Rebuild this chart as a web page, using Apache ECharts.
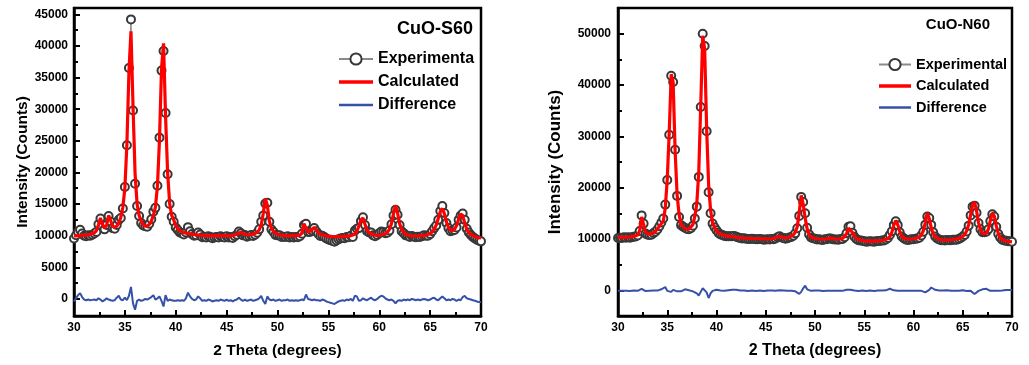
<!DOCTYPE html>
<html>
<head>
<meta charset="utf-8">
<script src="https://cdn.jsdelivr.net/npm/echarts@6/dist/echarts.min.js"></script>
<style>
  html, body { margin: 0; padding: 0; background: #fff; }
  #chart { width: 1029px; height: 365px; }
</style>
</head>
<body>
<div id="chart"></div>
<script>
// 2 theta sampling grid, 30..70 deg in 0.2 deg steps (201 points)
const twoTheta = [];
for (let i = 0; i <= 200; i++) twoTheta.push(+(30 + i * 0.2).toFixed(1));

// ---- CuO-S60 ----
const expS = [
  9550, 10080, 10600, 10920, 10350, 9980, 9900, 10050, 10000, 10150,
  10350, 10600, 11800, 12700, 11400, 11000, 11700, 13100, 12200, 11200,
  11100, 11700, 12500, 12800, 14300, 17700, 24300, 36500, 44200, 29800,
  18200, 14700, 13100, 12000, 11600, 11500, 11400, 11900, 12600, 13800,
  14400, 17900, 25500, 36100, 39200, 29400, 19700, 15000, 13000, 12200,
  11300, 10900, 10500, 10400, 10200, 10500, 11350, 10700, 10250, 10000,
  10050, 10500, 10200, 9750, 9850, 9700, 9900, 9800, 9600, 9700,
  9800, 9700, 9900, 9800, 9700, 9900, 9700, 9800, 9650, 9900,
  10150, 10650, 10400, 10050, 10100, 9850, 9950, 10100, 9950, 10150,
  10450, 11000, 12200, 13200, 15100, 15200, 12200, 11000, 10600, 10100,
  10050, 10050, 9800, 9850, 9800, 9900, 9700, 9800, 9700, 9800,
  9750, 9900, 10300, 11700, 11900, 10600, 10600, 10800, 11200, 10700,
  10300, 9950, 10000, 9800, 9550, 9400, 9300, 9150, 9050, 9250,
  9450, 9550, 9650, 9600, 9800, 9750, 10000, 9800, 10800, 11100,
  11200, 12300, 12900, 11700, 10700, 10500, 10500, 10050, 9900, 10100,
  10400, 10650, 10600, 10400, 10450, 10800, 11800, 13200, 14100, 13300,
  11700, 10700, 10400, 10050, 10000, 9800, 9950, 9850, 9750, 9850,
  9800, 9900, 10050, 10000, 10000, 10250, 10700, 11200, 11600, 12500,
  13900, 14700, 13600, 12000, 11200, 10700, 10800, 10900, 11300, 12500,
  13200, 13500, 12500, 11100, 10500, 10100, 9800, 9550, 9350, 9200,
  9100
];
const calcS = [
  9950, 9980, 10000, 10020, 10050, 10080, 10100, 10150, 10200, 10300,
  10450, 10800, 11700, 12800, 11800, 11200, 11600, 13200, 12400, 11500,
  11300, 11500, 12000, 12900, 14500, 17500, 24500, 36000, 42300, 30500,
  19900, 15000, 13200, 12300, 11800, 11500, 11500, 11800, 12300, 13200,
  14500, 17800, 25100, 36400, 40400, 28800, 20000, 15100, 13200, 12500,
  11600, 11100, 10800, 10600, 10500, 10400, 10350, 10300, 10250, 10200,
  10150, 10100, 10100, 10050, 10050, 10000, 10000, 10000, 10000, 10000,
  10000, 10000, 10000, 10000, 10000, 10000, 10000, 10000, 10050, 10100,
  10250, 10450, 10500, 10350, 10200, 10150, 10150, 10200, 10250, 10350,
  10550, 10900, 11700, 13500, 15900, 14800, 12300, 11200, 10700, 10400,
  10250, 10150, 10100, 10050, 10000, 10000, 10000, 10000, 10000, 10000,
  10050, 10100, 10400, 11900, 11200, 10600, 10700, 11000, 11300, 10900,
  10500, 10250, 10100, 10000, 9950, 9900, 9900, 9850, 9850, 9850,
  9850, 9850, 9850, 9900, 9900, 9950, 10000, 10100, 10300, 10700,
  11500, 12500, 12800, 11800, 10900, 10500, 10300, 10150, 10100, 10100,
  10100, 10150, 10200, 10300, 10550, 11000, 11900, 13500, 14800, 13600,
  11900, 11000, 10500, 10250, 10100, 10000, 9950, 9950, 9950, 9950,
  10000, 10000, 10050, 10100, 10200, 10350, 10600, 11000, 11700, 12700,
  13800, 14300, 13500, 12200, 11300, 10900, 10800, 11000, 11600, 12600,
  13400, 13200, 12000, 11000, 10500, 10200, 10000, 9850, 9750, 9700,
  9600
];
const diffS = [
  -400, 100, 600, 900, 300, -100, -200, -100, -200, -150,
  -100, -200, 100, -100, -400, -200, 100, -100, -200, -300,
  -200, 200, 500, -100, -200, 200, -200, 500, 1900, -700,
  -1700, -300, -100, -300, -200, 0, -100, 100, 300, 600,
  -100, 100, 400, -300, -1200, 600, -300, -100, -200, -300,
  -300, -200, -300, -200, -300, 100, 1000, 400, 0, -200,
  -100, 400, 100, -300, -200, -300, -100, -200, -400, -300,
  -200, -300, -100, -200, -300, -100, -300, -200, -400, -200,
  -100, 200, -100, -300, -100, -300, -200, -100, -300, -200,
  -100, 100, 500, -300, -800, 400, -100, -200, -100, -300,
  -200, -100, -300, -200, -200, -100, -300, -200, -300, -200,
  -300, -200, -100, -200, 700, 0, -100, -200, -100, -200,
  -200, -300, -100, -200, -400, -500, -600, -700, -800, -600,
  -400, -300, -200, -300, -100, -200, 0, -300, 500, 400,
  -300, -200, 100, -100, -200, 0, 200, -100, -200, 0,
  300, 500, 400, 100, -100, -200, -100, -300, -700, -300,
  -200, -300, -100, -200, -100, -200, 0, -100, -200, -100,
  -200, -100, 0, -100, -200, -100, 100, 200, -100, -200,
  100, 400, 100, -200, -100, -200, 0, -100, -300, -100,
  -200, 300, 500, 100, 0, -100, -200, -300, -400, -500,
  -500
];

// ---- CuO-N60 ----
const expN = [
  10200, 10250, 10200, 10350, 10250, 10350, 10250, 10350, 10450, 10500,
  10700, 11550, 14600, 13000, 11050, 10850, 10800, 10850, 11150, 11400,
  11850, 12500, 13200, 14000, 16700, 21500, 30300, 41800, 40600, 27400,
  18400, 14300, 12700, 12400, 12200, 11950, 11900, 12100, 12600, 14000,
  16300, 22100, 35700, 50000, 47600, 31000, 19100, 15000, 13000, 12300,
  11700, 11200, 10900, 10800, 10600, 10550, 10550, 10550, 10550, 10600,
  10450, 10300, 10200, 10100, 10150, 10050, 10000, 10000, 10050, 10000,
  9950, 9950, 10000, 9950, 9850, 9900, 9950, 9900, 10000, 9950,
  10100, 10350, 10550, 10300, 10200, 10050, 10150, 10300, 10400, 10650,
  11100, 12100, 14500, 18200, 17200, 15000, 12200, 10900, 10300, 10150,
  10050, 9900, 9950, 9850, 9800, 9950, 9950, 10100, 10100, 9950,
  9900, 9900, 9850, 10000, 10000, 10350, 11100, 12400, 12500, 11200,
  10450, 10000, 9750, 9700, 9650, 9550, 9450, 9500, 9550, 9500,
  9450, 9550, 9600, 9600, 9700, 9700, 9900, 10200, 10800, 11500,
  12700, 13450, 12700, 11300, 10500, 10150, 9900, 9800, 9850, 9950,
  9950, 10050, 10100, 10250, 10700, 11400, 12800, 14400, 14100, 12750,
  11300, 10500, 10100, 9900, 9750, 9750, 9700, 9800, 9750, 9750,
  9850, 9850, 9850, 10000, 10200, 10500, 10800, 11450, 12600, 14600,
  16300, 16500, 15100, 13100, 11900, 11300, 11300, 11400, 11900, 13500,
  14800, 14400, 12400, 11000, 10300, 9850, 9700, 9650, 9550, 9550,
  9450
];
const calcN = [
  10300, 10300, 10300, 10350, 10350, 10400, 10400, 10450, 10500, 10600,
  10800, 11600, 14300, 12800, 11200, 10900, 10900, 11000, 11200, 11500,
  11900, 12500, 13000, 13500, 16050, 21600, 30700, 42100, 40500, 27100,
  18600, 14800, 12900, 12400, 12000, 11850, 11900, 12200, 12800, 14400,
  16900, 23100, 36000, 49600, 46950, 31400, 20600, 15600, 13100, 12300,
  11600, 11200, 10950, 10800, 10700, 10600, 10550, 10500, 10450, 10400,
  10350, 10300, 10250, 10200, 10200, 10150, 10150, 10100, 10100, 10100,
  10100, 10050, 10050, 10050, 10000, 10000, 10000, 10000, 10050, 10100,
  10200, 10400, 10550, 10400, 10250, 10200, 10250, 10350, 10500, 10800,
  11300, 12400, 15200, 18500, 16800, 14100, 12000, 10900, 10400, 10200,
  10100, 10000, 10000, 9950, 9950, 10000, 10050, 10150, 10200, 10100,
  10000, 9950, 9950, 10000, 10100, 10400, 11000, 12100, 12400, 11300,
  10500, 10100, 9900, 9800, 9700, 9650, 9600, 9600, 9600, 9600,
  9600, 9650, 9650, 9700, 9750, 9800, 9900, 10100, 10500, 11300,
  12700, 13600, 12800, 11500, 10600, 10200, 10000, 9950, 9950, 10000,
  10050, 10100, 10200, 10400, 10800, 11600, 13200, 15000, 14000, 12200,
  11000, 10400, 10100, 9950, 9850, 9800, 9800, 9800, 9800, 9850,
  9900, 9950, 10000, 10100, 10250, 10500, 10900, 11600, 12800, 14700,
  16600, 17200, 15500, 13200, 11800, 11100, 10900, 11100, 11900, 13600,
  15000, 14500, 12600, 11100, 10300, 9900, 9700, 9600, 9550, 9500,
  9450
];
const diffN = [
  -100, -50, -100, 0, -100, -50, -150, -100, -50, -100,
  -100, -50, 300, 200, -150, -50, -100, -150, -50, -100,
  -50, 0, 200, 500, 650, -100, -400, -300, 100, 300,
  -200, -500, -200, 0, 200, 100, 0, -100, -200, -400,
  -600, -1000, -300, 400, 650, -400, -1500, -600, -100, 0,
  100, 0, -50, 0, -100, -50, 0, 50, 100, 200,
  100, 0, -50, -100, -50, -100, -150, -100, -50, -100,
  -150, -100, -50, -100, -150, -100, -50, -100, -50, -150,
  -100, -50, 0, -100, -50, -150, -100, -50, -100, -150,
  -200, -300, -700, -300, 400, 900, 200, 0, -100, -50,
  -50, -100, -50, -100, -150, -50, -100, -50, -100, -150,
  -100, -50, -100, 0, -100, -50, 100, 300, 100, -100,
  -50, -100, -150, -100, -50, -100, -150, -100, -50, -100,
  -150, -100, -50, -100, -50, -100, 0, 100, 300, 200,
  0, -150, -100, -200, -100, -50, -100, -150, -100, -50,
  -100, -50, -100, -150, -100, -200, -400, -600, 100, 550,
  300, 100, 0, -50, -100, -50, -100, 0, -50, -100,
  -50, -100, -150, -100, -50, 0, -100, -150, -200, -100,
  -300, -700, -400, -100, 100, 200, 400, 300, 0, -100,
  -200, -100, -200, -100, 0, -50, 0, 50, 0, 50,
  0
];

// tick values on the intensity axes
const yTicksS = [0, 5000, 10000, 15000, 20000, 25000, 30000, 35000, 40000, 45000];
const yMinorS = [2500, 7500, 12500, 17500, 22500, 27500, 32500, 37500, 42500];
const yTicksN = [0, 10000, 20000, 30000, 40000, 50000];
const yMinorN = [5000, 15000, 25000, 35000, 45000];

const FONT = "'Liberation Sans', Arial, sans-serif";
const tickLine = { color: '#000', width: 2 };
const plain = v => String(v);

function pairs(vals) {
  return twoTheta.map((x, i) => [x, vals[i]]);
}

function xAxisFor(gridIndex, nameSize) {
  return {
    gridIndex: gridIndex,
    type: 'value',
    min: 30, max: 70, interval: 5,
    name: '2 Theta (degrees)',
    nameLocation: 'middle',
    nameGap: 27,
    nameTextStyle: { fontSize: nameSize, fontWeight: 'bold', color: '#000', fontFamily: FONT },
    axisLine: { show: true, onZero: false, lineStyle: { color: '#000', width: 2.5 } },
    axisTick: { inside: true, length: 6, lineStyle: tickLine },
    minorTick: { show: true, splitNumber: 2, length: 4, lineStyle: tickLine },
    axisLabel: { margin: 6, fontSize: 12, fontWeight: 'bold', color: '#000', fontFamily: FONT, formatter: plain },
    splitLine: { show: false }
  };
}

function yAxesFor(gridIndex, min, max, ticks, minor, nameGap, nameSize, labelMargin) {
  return [{
    gridIndex: gridIndex,
    type: 'value',
    position: 'left',
    min: min, max: max,
    name: 'Intensity (Counts)',
    nameLocation: 'middle',
    nameGap: nameGap,
    nameTextStyle: { fontSize: nameSize, fontWeight: 'bold', color: '#000', fontFamily: FONT },
    axisLine: { show: true, onZero: false, lineStyle: { color: '#000', width: 2.5 } },
    axisTick: { show: true, inside: true, length: 6, lineStyle: tickLine, customValues: ticks },
    axisLabel: { margin: labelMargin, fontSize: 12, fontWeight: 'bold', color: '#000', fontFamily: FONT,
                 customValues: ticks, formatter: plain },
    splitLine: { show: false }
  }, {
    gridIndex: gridIndex,
    type: 'value',
    position: 'left',
    min: min, max: max,
    axisLine: { show: false, onZero: false },
    axisTick: { show: true, inside: true, length: 4, lineStyle: tickLine, customValues: minor },
    axisLabel: { show: false },
    splitLine: { show: false }
  }];
}

function panelSeries(p, exp, calc, diff) {
  return [{
    name: 'Experimental', type: 'line',
    xAxisIndex: p, yAxisIndex: p * 2,
    data: pairs(exp),
    symbol: 'emptyCircle', symbolSize: 8,
    lineStyle: { color: '#8a8a8a', width: 1 },
    itemStyle: { color: '#383838', borderColor: '#383838', borderWidth: 2 },
    z: 2
  }, {
    name: 'Calculated', type: 'line',
    xAxisIndex: p, yAxisIndex: p * 2,
    data: pairs(calc),
    symbol: 'none',
    lineStyle: { color: '#ff0000', width: 3.2 },
    itemStyle: { color: '#ff0000' },
    z: 3
  }, {
    name: 'Difference', type: 'line',
    xAxisIndex: p, yAxisIndex: p * 2,
    data: pairs(diff),
    symbol: 'none',
    lineStyle: { color: '#3651a8', width: 2 },
    itemStyle: { color: '#3651a8' },
    z: 3
  }];
}

function legendItems(w) {
  return [
    { name: 'Experimental' },
    { name: 'Calculated', icon: 'path://M0,0H' + w + 'V3.5H0Z' },
    { name: 'Difference', icon: 'path://M0,0H' + w + 'V2.5H0Z' }
  ];
}

const chart = echarts.init(document.getElementById('chart'), null, { renderer: 'canvas' });

const option = {
  animation: false,
  backgroundColor: '#fff',
  textStyle: { fontFamily: FONT },
  title: [{
    text: 'CuO-S60', right: 556, top: 20, padding: 0,
    textStyle: { fontSize: 18, fontWeight: 'bold', color: '#000', fontFamily: FONT }
  }, {
    text: 'CuO-N60', right: 39, top: 17, padding: 0,
    textStyle: { fontSize: 15, fontWeight: 'bold', color: '#000', fontFamily: FONT }
  }],
  legend: [{
    data: legendItems(34),
    orient: 'vertical', left: 338, top: 51, padding: 0,
    itemWidth: 34, itemHeight: 14, itemGap: 7, symbolKeepAspect: true,
    textStyle: { fontSize: 16, fontWeight: 'bold', color: '#000', fontFamily: FONT,
                 lineHeight: 14, width: 98, overflow: 'truncate', ellipsis: '' }
  }, {
    data: legendItems(32),
    orient: 'vertical', left: 878, top: 57, padding: 0,
    itemWidth: 32, itemHeight: 14, itemGap: 6.5, symbolKeepAspect: true,
    textStyle: { fontSize: 14.5, fontWeight: 'bold', color: '#000', fontFamily: FONT, lineHeight: 14 }
  }],
  grid: [
    { left: 74, top: 8, width: 407, height: 308, show: true, borderColor: '#000', borderWidth: 2.5, backgroundColor: 'transparent' },
    { left: 618, top: 8, width: 394, height: 308, show: true, borderColor: '#000', borderWidth: 2.5, backgroundColor: 'transparent' }
  ],
  xAxis: [xAxisFor(0, 15.5), xAxisFor(1, 16)],
  yAxis: [].concat(
    yAxesFor(0, -2700, 46000, yTicksS, yMinorS, 41, 15.5, 6),
    yAxesFor(1, -5000, 55000, yTicksN, yMinorN, 54, 17, 7)
  ),
  series: [].concat(
    panelSeries(0, expS, calcS, diffS),
    panelSeries(1, expN, calcN, diffN)
  )
};

chart.setOption(option);
window.addEventListener('resize', chart.resize);
</script>
</body>
</html>
